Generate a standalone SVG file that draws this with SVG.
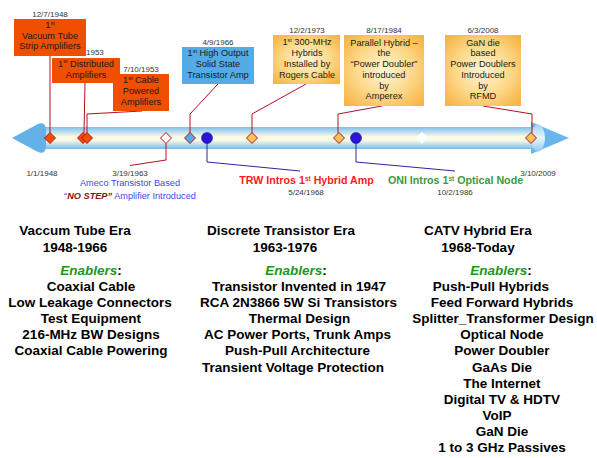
<svg xmlns="http://www.w3.org/2000/svg" width="597" height="458" viewBox="0 0 597 458">
<defs>
<style>
text{font-family:"Liberation Sans",Arial,sans-serif}
.d{font-size:8px;fill:#333;text-anchor:middle}
.bx{font-size:9.2px;fill:#1a1a1a;text-anchor:middle}
.sup{font-size:5.5px}
.era{font-size:13.5px;font-weight:bold;fill:#000;text-anchor:middle}
.en{fill:#1e961e;font-style:italic}
.cn{stroke:#b3121f;stroke-width:1;fill:none}
.cb{stroke:#2e22a8;stroke-width:1;fill:none}
.dm{stroke:#b3121f;stroke-width:1}
.red{fill:#f04f00}
.blu{fill:#55abe6}
</style>
<radialGradient id="og" cx="50%" cy="50%" r="65%">
<stop offset="0" stop-color="#fff6d8"/>
<stop offset="0.55" stop-color="#fcd98a"/>
<stop offset="1" stop-color="#f8b447"/>
</radialGradient>
<linearGradient id="bar" x1="0" y1="0" x2="0" y2="1">
<stop offset="0" stop-color="#7cc0ee"/>
<stop offset="0.45" stop-color="#fdfae6"/>
<stop offset="0.6" stop-color="#fdfae6"/>
<stop offset="1" stop-color="#76bbeb"/>
</linearGradient>
<linearGradient id="cap" x1="0" y1="0" x2="0" y2="1">
<stop offset="0" stop-color="#9fd3f4"/>
<stop offset="0.5" stop-color="#eaf6fd"/>
<stop offset="1" stop-color="#8ccaf2"/>
</linearGradient>
</defs>

<g id="timeline">
<polygon points="531,122 569,138 531,154" fill="#69b6ea"/>
<rect x="38" y="127" width="500" height="22" fill="url(#bar)"/>
<ellipse cx="538" cy="138" rx="7" ry="13.5" fill="url(#cap)"/>
<path d="M12,138 L37,124.5 Q45,120.5 46,129 L46,147 Q45,155.5 37,151.5 Z" fill="#64b1e8"/>
</g>

<g id="connectors">
<polyline class="cn" points="50,56 50,133"/>
<polyline class="cn" points="85,83 84,133"/>
<polyline class="cn" points="142,111 87,114 87,133"/>
<polyline class="cn" points="166,143.5 166,160 130,165.5"/>
<polyline class="cn" points="218,84 190,114 190,133"/>
<polyline class="cn" points="306,84 252,114 252,133"/>
<polyline class="cn" points="382,106 338,114 338,133"/>
<polyline class="cn" points="483,106 532,114 532,133"/>
<polyline class="cb" points="207,143 207,162 300,171"/>
<polyline class="cb" points="356,143 356,162 455,171"/>
</g>

<g id="markers">
<polygon class="dm red" points="50,132.5 55.5,138 50,143.5 44.5,138"/>
<polygon class="dm red" points="83,132.5 88.5,138 83,143.5 77.5,138"/>
<polygon class="dm red" points="87,132.5 92.5,138 87,143.5 81.5,138"/>
<polygon class="dm" fill="#fff" points="166,132.5 171.5,138 166,143.5 160.5,138"/>
<polygon class="dm blu" points="190,132.5 195.5,138 190,143.5 184.5,138"/>
<polygon class="dm" fill="#f9c25a" points="252,132.5 257.5,138 252,143.5 246.5,138"/>
<polygon class="dm" fill="#f9c25a" points="339,132.5 344.5,138 339,143.5 333.5,138"/>
<polygon class="dm" fill="#f9c25a" points="531,132.5 536.5,138 531,143.5 525.5,138"/>
<polygon fill="#fff" points="422,132 428,138 422,144 416,138"/>
<circle cx="207" cy="138" r="5.5" fill="#2a14d6" stroke="#1e1090" stroke-width="0.6"/>
<circle cx="356" cy="138" r="5.5" fill="#2a14d6" stroke="#1e1090" stroke-width="0.6"/>
</g>

<g id="ev-1953-dist">
<text class="d" x="86" y="55" style="text-anchor:start">1953</text>
<rect x="52" y="58" width="68" height="25" class="red"/>
<text class="bx" x="86" y="66.5">1<tspan class="sup" dy="-3.2">st</tspan><tspan dy="3.2"> Distributed</tspan></text>
<text class="bx" x="86" y="77.5">Amplifiers</text>
</g>

<g id="ev-1948">
<text class="d" x="50" y="17">12/7/1948</text>
<rect x="14" y="19" width="72" height="37" class="red"/>
<text class="bx" x="50" y="28.3">1<tspan class="sup" dy="-3.2">st</tspan></text>
<text class="bx" x="50" y="38.8">Vacuum Tube</text>
<text class="bx" x="50" y="49.3">Strip Amplifiers</text>
</g>

<g id="ev-1953-cable">
<text class="d" x="141" y="72">7/10/1953</text>
<rect x="113" y="74" width="56" height="37" class="red"/>
<text class="bx" x="141" y="83.3">1<tspan class="sup" dy="-3.2">st</tspan><tspan dy="3.2"> Cable</tspan></text>
<text class="bx" x="141" y="94">Powered</text>
<text class="bx" x="141" y="104.8">Amplifiers</text>
</g>

<g id="ev-1966">
<text class="d" x="218" y="44.5">4/9/1966</text>
<rect x="182" y="47" width="72" height="37" class="blu"/>
<text class="bx" x="218" y="56">1<tspan class="sup" dy="-3.2">st</tspan><tspan dy="3.2"> High Output</tspan></text>
<text class="bx" x="218" y="66.7">Solid State</text>
<text class="bx" x="218" y="77.5">Transistor Amp</text>
</g>

<g id="ev-1973">
<text class="d" x="307" y="33.3">12/2/1973</text>
<rect x="273" y="35" width="67" height="49" fill="url(#og)"/>
<text class="bx" x="307" y="45.3">1<tspan class="sup" dy="-3.2">st</tspan><tspan dy="3.2"> 300-MHz</tspan></text>
<text class="bx" x="307" y="56">Hybrids</text>
<text class="bx" x="307" y="66.7">Installed by</text>
<text class="bx" x="307" y="77.5">Rogers Cable</text>
</g>

<g id="ev-1984">
<text class="d" x="384" y="33.3">8/17/1984</text>
<rect x="344" y="35" width="80" height="71" fill="url(#og)"/>
<text class="bx" x="384" y="45.5">Parallel Hybrid –</text>
<text class="bx" x="384" y="56.2">the</text>
<text class="bx" x="384" y="67">“Power Doubler”</text>
<text class="bx" x="384" y="77.7">introduced</text>
<text class="bx" x="384" y="88.5">by</text>
<text class="bx" x="384" y="99.2">Amperex</text>
</g>

<g id="ev-2008">
<text class="d" x="483" y="33.3">6/3/2008</text>
<rect x="445" y="35" width="76" height="71" fill="url(#og)"/>
<text class="bx" x="483" y="45.5">GaN die</text>
<text class="bx" x="483" y="56.2">based</text>
<text class="bx" x="483" y="67">Power Doublers</text>
<text class="bx" x="483" y="77.7">Introduced</text>
<text class="bx" x="483" y="88.5">by</text>
<text class="bx" x="483" y="99.2">RFMD</text>
</g>

<g id="ev-1963">
<text class="d" x="130" y="175.5">3/19/1963</text>
<text x="130" y="186" style="font-size:9.2px;fill:#4646e8;text-anchor:middle">Ameco Transistor Based</text>
<text x="130" y="198.5" style="font-size:9.2px;fill:#4646e8;text-anchor:middle">“<tspan style="fill:#8b1010;font-weight:bold;font-style:italic">NO STEP”</tspan> Amplifier Introduced</text>
</g>

<g id="ev-1968">
<text x="306.5" y="184" style="font-size:10.7px;font-weight:bold;fill:#ff1a1a;text-anchor:middle">TRW Intros 1<tspan style="font-size:6.5px" dy="-3.5">st</tspan><tspan dy="3.5"> Hybrid Amp</tspan></text>
<text class="d" x="306" y="194.5">5/24/1968</text>
</g>

<g id="ev-1986">
<text x="455.5" y="184" style="font-size:10.7px;font-weight:bold;fill:#3c9a3c;text-anchor:middle">ONI Intros 1<tspan style="font-size:6.5px" dy="-3.5">st</tspan><tspan dy="3.5"> Optical Node</tspan></text>
<text class="d" x="455" y="194.5">10/2/1986</text>
</g>

<g id="dates">
<text class="d" x="42" y="175.5">1/1/1948</text>
<text class="d" x="538" y="175.5">3/10/2009</text>
</g>

<g id="era-vacuum">
<text class="era" x="75" y="235">Vaccum Tube Era</text>
<text class="era" x="75" y="252">1948-1966</text>
<text class="era" x="91" y="275"><tspan class="en">Enablers</tspan>:</text>
<text class="era" x="91" y="291">Coaxial Cable</text>
<text class="era" x="90" y="307.1">Low Leakage Connectors</text>
<text class="era" x="91" y="323.2">Test Equipment</text>
<text class="era" x="91" y="339.3">216-MHz BW Designs</text>
<text class="era" x="91" y="355.4">Coaxial Cable Powering</text>
</g>

<g id="era-discrete">
<text class="era" x="281" y="235">Discrete Transistor Era</text>
<text class="era" x="285" y="252">1963-1976</text>
<text class="era" x="296" y="275"><tspan class="en">Enablers</tspan>:</text>
<text class="era" x="299" y="291">Transistor Invented in 1947</text>
<text class="era" x="298.5" y="307.1">RCA 2N3866 5W Si Transistors</text>
<text class="era" x="299.5" y="323.2">Thermal Design</text>
<text class="era" x="297.5" y="339.3">AC Power Ports, Trunk Amps</text>
<text class="era" x="297.5" y="355.4">Push-Pull Architecture</text>
<text class="era" x="293" y="371.5">Transient Voltage Protection</text>
</g>

<g id="era-catv">
<text class="era" x="478" y="235">CATV Hybrid Era</text>
<text class="era" x="478" y="252">1968-Today</text>
<text class="era" x="501" y="275"><tspan class="en">Enablers</tspan>:</text>
<text class="era" x="491" y="291">Push-Pull Hybrids</text>
<text class="era" x="502" y="307.1">Feed Forward Hybrids</text>
<text class="era" x="503" y="323.2">Splitter_Transformer Design</text>
<text class="era" x="502" y="339.3">Optical Node</text>
<text class="era" x="502" y="355.4">Power Doubler</text>
<text class="era" x="502" y="371.5">GaAs Die</text>
<text class="era" x="502" y="387.6">The Internet</text>
<text class="era" x="502" y="403.7">Digital TV &amp; HDTV</text>
<text class="era" x="497" y="419.8">VoIP</text>
<text class="era" x="502" y="435.9">GaN Die</text>
<text class="era" x="502" y="452">1 to 3 GHz Passives</text>
</g>
</svg>
